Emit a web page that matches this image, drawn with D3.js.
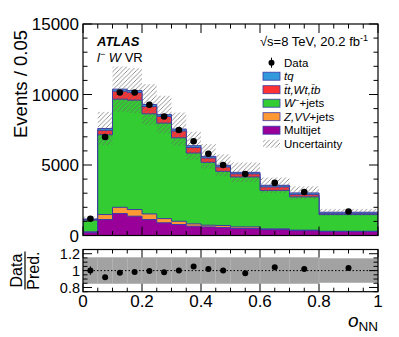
<!DOCTYPE html>
<html><head><meta charset="utf-8">
<script src="https://cdn.jsdelivr.net/npm/d3@7"></script>
<style>
html,body{margin:0;padding:0;background:#fff;}
text{font-family:"Liberation Sans",Arial,Helvetica,sans-serif;fill:#000;}
</style></head>
<body><svg id="c" width="399" height="337"></svg>
<script>
// ---- data ----
const binEdges = [0,0.05,0.1,0.15,0.2,0.25,0.3,0.35,0.4,0.45,0.5,0.6,0.7,0.8,1.0];
const multijet = [220,1130,1556,1370,1130,900,780,660,610,570,500,420,350,280];
const zvvJets  = [40,356,444,470,400,300,230,165,120,140,110,50,30,20];
const wJets    = [830,5659,7670,7760,7100,6770,5920,5025,4460,3840,3540,2730,2360,1186];
const ttWtTb   = [40,315,560,530,520,470,480,390,300,310,220,240,160,54];
const tq       = [40,130,150,150,140,140,140,130,120,120,110,120,120,110];
const dataVals = [1190,6990,10140,10140,9270,8440,7480,6680,5800,5000,4360,3730,3090,1700];
const uncRel   = [0.155,0.155,0.155,0.155,0.155,0.155,0.155,0.155,0.155,0.155,0.155,0.155,0.155,0.143];
const ratioVals= [1.00,0.92,0.976,0.984,0.996,0.98,1.00,1.048,1.02,1.00,0.968,1.04,1.02,1.032];
const ratioErr = [0.05,0.012,0.01,0.01,0.01,0.011,0.012,0.012,0.013,0.014,0.015,0.016,0.018,0.024];
const yTicks   = [0,5000,10000,15000];
const rTicks   = [0.8,1,1.2];
const xTicks   = [0,0.2,0.4,0.6,0.8,1];

const layers = [
  {name:"Multijet", vals:multijet, color:"#990099"},
  {name:"Z,VV+jets", vals:zvvJets, color:"#ff9933"},
  {name:"W-+jets", vals:wJets, color:"#33cc33"},
  {name:"tt,Wt,tb", vals:ttWtTb, color:"#ff3333"},
  {name:"tq", vals:tq, color:"#3399dd"}
];

const svg = d3.select("#c");
svg.append("rect").attr("width",399).attr("height",337).attr("fill","#fff");

const x = d3.scaleLinear([0,1],[83,378]);
const y = d3.scaleLinear([0,15000],[235.5,24]);
const yr = d3.scaleLinear([0.75,1.25],[291.7,249.5]);

// hatch pattern
const defs = svg.append("defs");
defs.append("pattern").attr("id","hatch").attr("patternUnits","userSpaceOnUse")
  .attr("width",4.5).attr("height",4.5)
  .append("path").attr("d","M-1,1 l2,-2 M0,4.5 l4.5,-4.5 M3.5,5.5 l2,-2")
  .attr("stroke","#666").attr("stroke-width",0.7);
defs.append("clipPath").attr("id","mainclip").append("rect")
  .attr("x",x(0)).attr("y",y(15000)).attr("width",x(1)-x(0)).attr("height",y(0)-y(15000));

const nb = binEdges.length-1;
// cumulative stacks
const cum = [];
let run = new Array(nb).fill(0);
layers.forEach(l=>{ run = run.map((v,i)=>v+l.vals[i]); cum.push(run.slice()); });
const total = cum[cum.length-1];

function stepPath(vals, sc){
  const p = d3.path();
  p.moveTo(x(binEdges[0]), sc(0));
  for(let i=0;i<nb;i++){ p.lineTo(x(binEdges[i]), sc(vals[i])); p.lineTo(x(binEdges[i+1]), sc(vals[i])); }
  p.lineTo(x(binEdges[nb]), sc(0));
  p.closePath();
  return p.toString();
}
const g = svg.append("g").attr("clip-path","url(#mainclip)");
for(let k=layers.length-1;k>=0;k--){
  g.append("path").attr("d",stepPath(cum[k],y)).attr("fill",layers[k].color)
    .attr("stroke","#3a3aa8").attr("stroke-width",1);
}
// uncertainty hatch
for(let i=0;i<nb;i++){
  const u = total[i]*uncRel[i];
  g.append("rect").attr("x",x(binEdges[i])).attr("width",x(binEdges[i+1])-x(binEdges[i]))
    .attr("y",y(total[i]+u)).attr("height",y(total[i]-u)-y(total[i]+u)).attr("fill","url(#hatch)");
}
// data points
for(let i=0;i<nb;i++){
  const cx = x((binEdges[i]+binEdges[i+1])/2);
  const e = Math.sqrt(dataVals[i]);
  g.append("line").attr("x1",cx).attr("x2",cx).attr("y1",y(dataVals[i]-e)).attr("y2",y(dataVals[i]+e)).attr("stroke","#000").attr("stroke-width",1);
  g.append("circle").attr("cx",cx).attr("cy",y(dataVals[i])).attr("r",3.3).attr("fill","#000");
}
// frame main
svg.append("rect").attr("x",x(0)).attr("y",y(15000)).attr("width",x(1)-x(0)).attr("height",y(0)-y(15000))
  .attr("fill","none").attr("stroke","#000").attr("stroke-width",1.2);

function tickList(majors, minorStep, lo, hi, majLen, minLen){
  const out=[];
  const n = Math.round((hi-lo)/minorStep);
  for(let j=0;j<=n;j++){
    const v = lo + j*minorStep;
    const isMaj = majors.some(m=>Math.abs(m-v)<1e-6);
    out.push({v, len: isMaj?majLen:minLen});
  }
  return out;
}
const tk = svg.append("g").attr("stroke","#000").attr("stroke-width",1);
tickList(yTicks,1000,0,15000,9,4.5).forEach(t=>{
  tk.append("line").attr("x1",x(0)).attr("x2",x(0)+t.len).attr("y1",y(t.v)).attr("y2",y(t.v));
  tk.append("line").attr("x1",x(1)).attr("x2",x(1)-t.len).attr("y1",y(t.v)).attr("y2",y(t.v));
});
tickList(xTicks,0.05,0,1,9,4.5).forEach(t=>{
  tk.append("line").attr("x1",x(t.v)).attr("x2",x(t.v)).attr("y1",y(0)).attr("y2",y(0)-t.len);
  tk.append("line").attr("x1",x(t.v)).attr("x2",x(t.v)).attr("y1",y(15000)).attr("y2",y(15000)+t.len);
});
svg.selectAll(".ytl").data(yTicks).join("text").attr("x",79).attr("y",d=>y(d)+6)
  .attr("text-anchor","end").attr("font-size",17).text(d=>d);
svg.append("text").attr("transform","translate(27,84) rotate(-90)").attr("text-anchor","middle")
  .attr("font-size",18.5).text("Events / 0.05");

// ---- ratio panel ----
for(let i=0;i<nb;i++){
  svg.append("rect").attr("x",x(binEdges[i])).attr("width",x(binEdges[i+1])-x(binEdges[i]))
    .attr("y",yr(1+uncRel[i])).attr("height",yr(1-uncRel[i])-yr(1+uncRel[i]))
    .attr("fill","#a2a2a2").attr("stroke","#b4b4b4").attr("stroke-width",0.6);
}
svg.append("line").attr("x1",x(0)).attr("x2",x(1)).attr("y1",yr(1)).attr("y2",yr(1))
  .attr("stroke","#000").attr("stroke-width",1).attr("stroke-dasharray","1.5,2");
for(let i=0;i<nb;i++){
  const cx = x((binEdges[i]+binEdges[i+1])/2);
  svg.append("line").attr("x1",cx).attr("x2",cx).attr("y1",yr(ratioVals[i]-ratioErr[i])).attr("y2",yr(ratioVals[i]+ratioErr[i])).attr("stroke","#000");
  svg.append("circle").attr("cx",cx).attr("cy",yr(ratioVals[i])).attr("r",3).attr("fill","#000");
}
svg.append("rect").attr("x",x(0)).attr("y",yr(1.25)).attr("width",x(1)-x(0)).attr("height",yr(0.75)-yr(1.25))
  .attr("fill","none").attr("stroke","#000").attr("stroke-width",1.2);
const tk2 = svg.append("g").attr("stroke","#000").attr("stroke-width",1);
tickList(rTicks,0.05,0.75,1.25,9,4.5).forEach(t=>{
  tk2.append("line").attr("x1",x(0)).attr("x2",x(0)+t.len).attr("y1",yr(t.v)).attr("y2",yr(t.v));
  tk2.append("line").attr("x1",x(1)).attr("x2",x(1)-t.len).attr("y1",yr(t.v)).attr("y2",yr(t.v));
});
tickList(xTicks,0.05,0,1,8,4).forEach(t=>{
  tk2.append("line").attr("x1",x(t.v)).attr("x2",x(t.v)).attr("y1",yr(0.75)).attr("y2",yr(0.75)-t.len);
  tk2.append("line").attr("x1",x(t.v)).attr("x2",x(t.v)).attr("y1",yr(1.25)).attr("y2",yr(1.25)+t.len);
});
svg.selectAll(".rtl").data(rTicks).join("text").attr("x",80).attr("y",d=>yr(d)+5.5)
  .attr("text-anchor","end").attr("font-size",14.5).text(d=>d);
svg.selectAll(".xtl").data(xTicks).join("text").attr("x",d=>x(d)).attr("y",307)
  .attr("text-anchor","middle").attr("font-size",17).text(d=>d);
// Data/Pred label
const rl = svg.append("g").attr("transform","translate(0,"+yr(1)+") rotate(-90)");
rl.append("text").attr("x",0).attr("y",22).attr("text-anchor","middle").attr("font-size",16).text("Data");
rl.append("line").attr("x1",-19).attr("x2",19).attr("y1",25).attr("y2",25).attr("stroke","#000").attr("stroke-width",1.2);
rl.append("text").attr("x",0).attr("y",38.5).attr("text-anchor","middle").attr("font-size",16).text("Pred.");
// x label
const xl = svg.append("text").attr("x",378).attr("y",327).attr("text-anchor","end");
xl.append("tspan").attr("font-size",19).attr("font-style","italic").text("o");
xl.append("tspan").attr("font-size",13.5).attr("dy",4).text("NN");

// ---- annotations ----
svg.append("text").attr("x",97).attr("y",45.5).attr("font-size",13).attr("font-weight","bold").attr("font-style","italic").text("ATLAS");
const t2 = svg.append("text").attr("x",97).attr("y",61.5).attr("font-size",13);
t2.append("tspan").attr("font-style","italic").text("l");
t2.append("tspan").attr("font-size",9).attr("dy",-5).text("−");
t2.append("tspan").attr("dy",5).attr("font-style","italic").text(" W");
t2.append("tspan").text(" VR");
const t3 = svg.append("text").attr("x",368).attr("y",45.5).attr("font-size",13).attr("text-anchor","end");
t3.append("tspan").text("√s=8 TeV, 20.2 fb");
t3.append("tspan").attr("font-size",9).attr("dy",-5).text("-1");

// legend
const lg = svg.append("g");
const rowY = [62.7,76.2,89.7,103.2,116.7,130.2,143.7];
lg.append("circle").attr("cx",271.5).attr("cy",rowY[0]).attr("r",3).attr("fill","#000");
lg.append("line").attr("x1",271.5).attr("x2",271.5).attr("y1",rowY[0]-5).attr("y2",rowY[0]+5).attr("stroke","#000");
const legItems = [
  {parts:[["tq","italic"]], color:"#3399dd"},
  {parts:[["t\u0304t,Wt,t\u0304b","italic"]], color:"#ff3333"},
  {parts:[["W","italic"],["−","sup"],["+jets","normal"]], color:"#33cc33"},
  {parts:[["Z,VV","italic"],["+jets","normal"]], color:"#ff9933"},
  {parts:[["Multijet","normal"]], color:"#990099"}
];
legItems.forEach((it,k)=>{
  const cy = rowY[k+1];
  lg.append("rect").attr("x",263).attr("y",cy-4).attr("width",17).attr("height",8)
    .attr("fill",it.color).attr("stroke","#3a3aa8").attr("stroke-width",0.8);
  const tt = lg.append("text").attr("x",284).attr("y",cy+4).attr("font-size",11.5);
  let prevSup = false;
  it.parts.forEach(p=>{
    if(p[1]==="sup"){ tt.append("tspan").attr("font-size",8).attr("dy",-4).text(p[0]); prevSup = true; }
    else {
      const s = tt.append("tspan").attr("font-style",p[1]).text(p[0]);
      if(prevSup) s.attr("dy",4);
      prevSup = false;
    }
  });
});
lg.append("text").attr("x",284).attr("y",rowY[0]+4).attr("font-size",11.5).text("Data");
lg.append("rect").attr("x",263).attr("y",rowY[6]-4).attr("width",17).attr("height",8).attr("fill","url(#hatch)");
lg.append("text").attr("x",284).attr("y",rowY[6]+4).attr("font-size",11.5).text("Uncertainty");
</script></body></html>
